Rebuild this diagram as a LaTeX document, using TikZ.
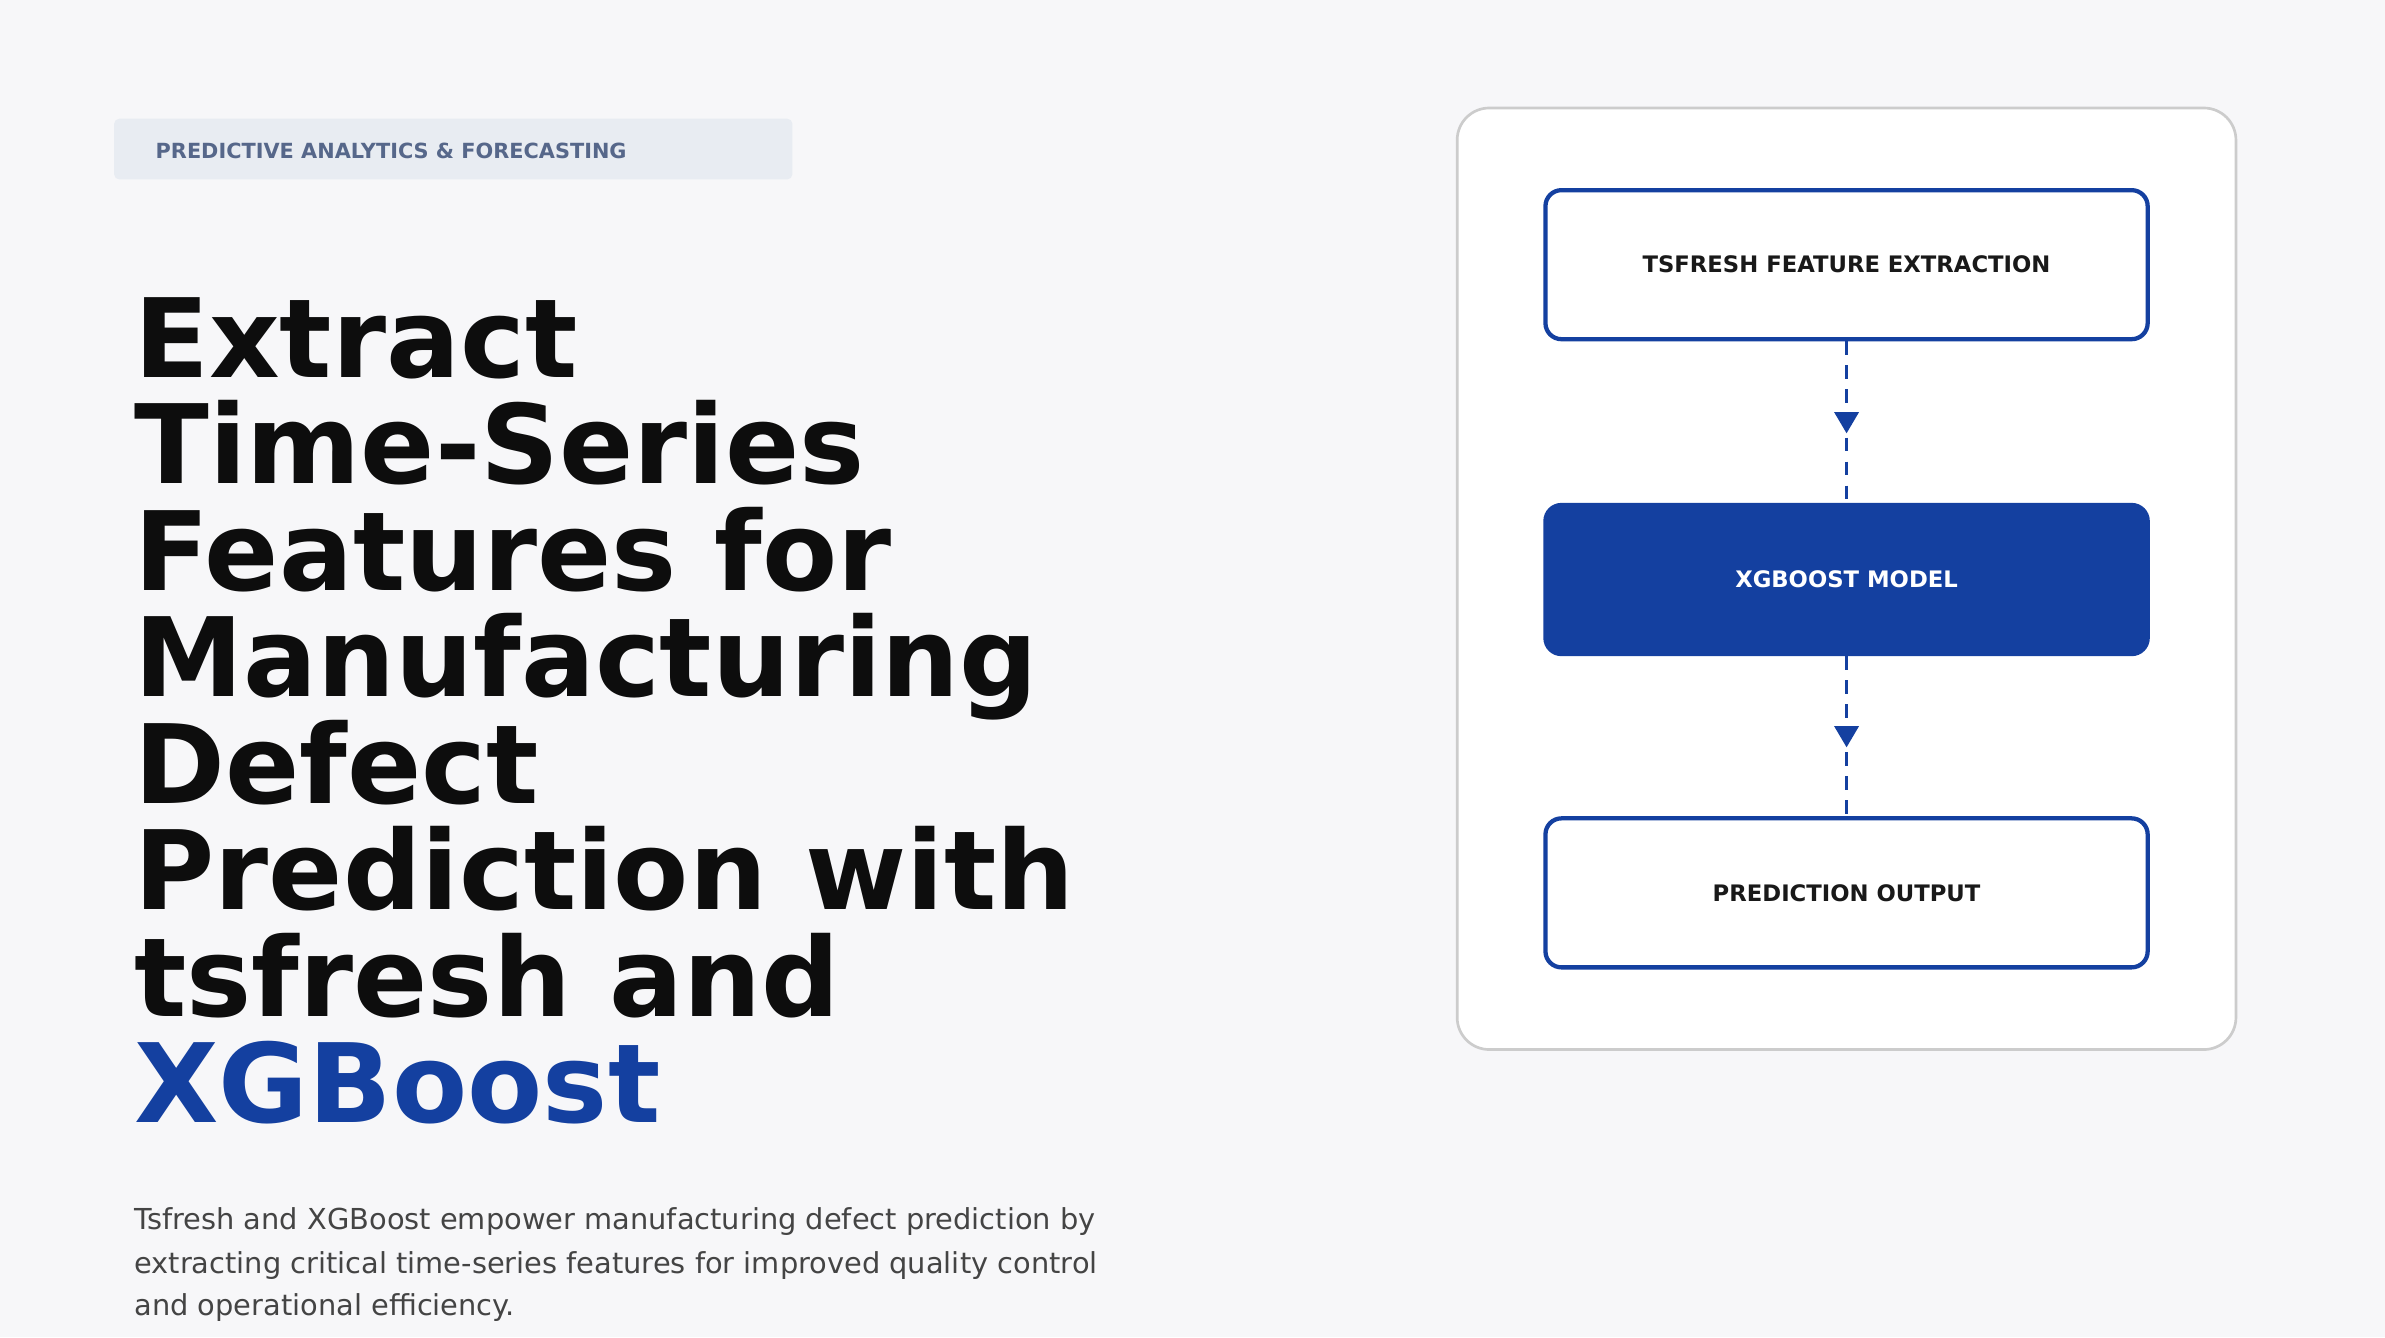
\documentclass[tikz,border=0pt]{standalone}
\usepackage{fontspec}
\setmainfont{DejaVu Sans}
\usetikzlibrary{arrows.meta,decorations.markings}
\definecolor{bgpage}{HTML}{F7F7F9}
\definecolor{brand}{HTML}{1440A0}
\definecolor{tagbg}{HTML}{E8ECF2}
\definecolor{tagfg}{HTML}{56678A}
\definecolor{bodyfg}{HTML}{444444}
\tikzset{
  titleline/.style={anchor=base west, inner sep=0pt, font=\fontsize{41}{40}\selectfont\bfseries, text=black!95},
  bodyline/.style={anchor=base west, inner sep=0pt, font=\fontsize{10.8}{14}\selectfont, text=bodyfg},
  stagebox/.style={draw=brand, line width=1.6pt, rounded corners=6pt, fill=white, minimum width=7.92cm, minimum height=1.96cm, font=\fontsize{8.5}{10}\selectfont\bfseries, text=black!90},
  stagefill/.style={stagebox, fill=brand, text=white},
  flow/.style={draw=brand, line width=1.4pt, dash pattern=on 5pt off 4pt,
    postaction={decorate}, decoration={markings, mark=at position 0.57 with {\arrow[brand]{Triangle[length=8pt,width=9pt]}}}}
}
\begin{document}
\begin{tikzpicture}[x=0.02cm, y=-0.02cm]
\useasboundingbox[fill=bgpage] (0,0) rectangle (1568,879);
% tag
\fill[tagbg, rounded corners=2pt] (75,78) rectangle (521,118);
\node[anchor=west, inner sep=0pt, font=\fontsize{7.8}{9}\selectfont\bfseries, text=tagfg] (tag) at (102,99) {PREDICTIVE ANALYTICS \& FORECASTING};
% title
\node[titleline] (t1) at (88,248) {Extract};
\node[titleline] (t2) at (88,318) {Time-Series};
\node[titleline] (t3) at (88,388) {Features for};
\node[titleline] (t4) at (88,458) {Manufacturing};
\node[titleline] (t5) at (88,528) {Defect};
\node[titleline] (t6) at (88,598) {Prediction with};
\node[titleline] (t7) at (88,668) {tsfresh and};
\node[titleline, text=brand] (t8) at (88,738) {XGBoost};
% body
\node[bodyline] (b1) at (88,808) {Tsfresh and XGBoost empower manufacturing defect prediction by};
\node[bodyline] (b2) at (88,837) {extracting critical time-series features for improved quality control};
\node[bodyline] (b3) at (88,865) {and operational efficiency.};
% card
\draw[black!20, line width=1pt, fill=white, rounded corners=12pt] (958,71) rectangle (1470,690);
\node[stagebox] (extract) at (1214,174) {TSFRESH FEATURE EXTRACTION};
\node[stagefill] (model) at (1214,381) {XGBOOST MODEL};
\node[stagebox] (output) at (1214,587) {PREDICTION OUTPUT};
\draw[flow] (extract.south) -- (model.north);
\draw[flow] (model.south) -- (output.north);
\end{tikzpicture}
\end{document}
